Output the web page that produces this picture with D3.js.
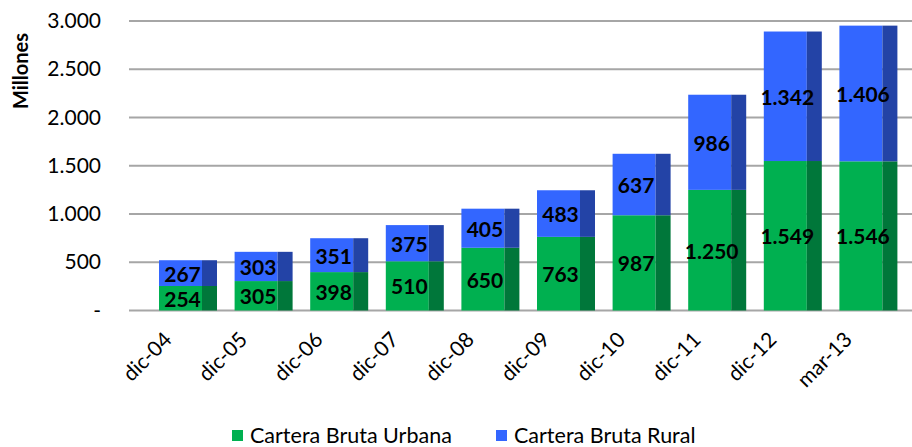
<!DOCTYPE html>
<html><head><meta charset="utf-8">
<script src="https://cdn.jsdelivr.net/npm/d3@7"></script>
<style>body{margin:0;background:#fff}svg{display:block}text{font-family:Lato,"Open Sans",sans-serif}</style>
</head><body><svg id="c" width="912" height="447"></svg>
<script>
const categories = ["dic-04","dic-05","dic-06","dic-07","dic-08","dic-09","dic-10","dic-11","dic-12","mar-13"];
const urbana = [254,305,398,510,650,763,987,1250,1549,1546];
const rural  = [267,303,351,375,405,483,637,986,1342,1406];
const yTicks = [0,500,1000,1500,2000,2500,3000];
const seriesNames = ["Cartera Bruta Urbana","Cartera Bruta Rural"];

const loc = d3.formatLocale({decimal:",",thousands:".",grouping:[3],currency:["",""]});
const fmt = loc.format(",d");
const svg = d3.select("#c");
const x = d3.scaleBand().domain(categories).range([129,885]).padding(0);
const y = d3.scaleLinear().domain([0,3000]).range([310.5,21]);

const colors = {front:["#00b050","#3366ff"], side:["#00773a","#2343a6"]};
const FO = 30, FW = 43, SW = 15;

// gridlines
svg.append("g").selectAll("line").data(yTicks).join("line")
  .attr("x1",129).attr("x2",912).attr("y1",d=>y(d)).attr("y2",d=>y(d))
  .attr("stroke","#a6a6a6").attr("stroke-width",2);

// y labels
const yAxis = d3.axisLeft(y).tickValues(yTicks).tickSize(0).tickPadding(0)
  .tickFormat(d=> d===0 ? "-" : fmt(d));
const ya = svg.append("g").attr("transform","translate(101,0)").call(yAxis);
ya.select(".domain").remove();
ya.selectAll("text").attr("font-size",21).attr("fill","#000").attr("font-family","Lato,sans-serif");

// stacked data
const rows = categories.map((c,i)=>({c, u:urbana[i], r:rural[i]}));
const stack = d3.stack().keys(["u","r"])(rows);

stack.forEach((layer,k)=>{
  const g = svg.append("g");
  g.selectAll("rect.f").data(layer).join("rect").attr("class","f")
    .attr("x",d=>x(d.data.c)+FO).attr("width",FW)
    .attr("y",d=>y(d[1])).attr("height",d=>y(d[0])-y(d[1]))
    .attr("fill",colors.front[k]);
  g.selectAll("rect.s").data(layer).join("rect").attr("class","s")
    .attr("x",d=>x(d.data.c)+FO+FW).attr("width",SW)
    .attr("y",d=>y(d[1])).attr("height",d=>y(d[0])-y(d[1]))
    .attr("fill",colors.side[k]);
});
stack.forEach((layer,k)=>{
  svg.append("g").selectAll("text").data(layer).join("text")
    .attr("x",d=>x(d.data.c)+FO+FW/2+2)
    .attr("y",d=>(y(d[0])+y(d[1]))/2)
    .attr("text-anchor","middle").attr("dominant-baseline","central")
    .attr("font-size",21).attr("font-weight","bold").attr("fill","#000")
    .text(d=>fmt(d[1]-d[0]));
});

// x labels
svg.append("g").selectAll("text").data(categories).join("text")
  .attr("transform",d=>`translate(${x(d)+44},341) rotate(-45)`)
  .attr("text-anchor","end").attr("font-size",21).attr("fill","#000").text(d=>d);

// y title
svg.append("text").attr("transform","translate(20,71) rotate(-90)")
  .attr("text-anchor","middle").attr("dominant-baseline","central")
  .attr("font-size",20).attr("font-weight","bold").text("Millones");

// legend
const legX = [232, 496];
seriesNames.forEach((n,k)=>{
  svg.append("rect").attr("x",legX[k]).attr("y",430).attr("width",11).attr("height",11).attr("fill",colors.front[k]);
  svg.append("text").attr("x",legX[k]+18).attr("y",435).attr("dominant-baseline","central")
    .attr("font-size",21.5).attr("fill","#000").text(n);
});
</script></body></html>
